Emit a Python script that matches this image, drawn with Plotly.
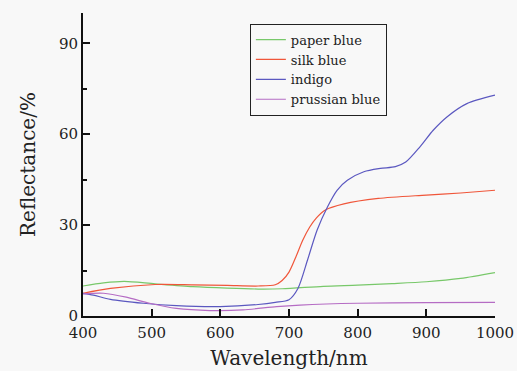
import plotly.graph_objects as go

wl_paper = [400, 430, 460, 505, 560, 610, 655, 690, 750, 800, 850, 900, 950, 1000]
paper_blue = [9.9, 10.9, 11.4, 10.6, 9.7, 9.2, 8.9, 9.0, 9.8, 10.2, 10.7, 11.3, 12.4, 14.3]

wl_silk = [400, 440, 505, 560, 610, 655, 680, 690, 700, 710, 720, 730, 740, 753, 780, 830, 900, 950, 1000]
silk_blue = [7.5, 9.1, 10.4, 10.3, 10.1, 9.9, 10.3, 11.7, 14.5, 19.5, 25.0, 29.3, 32.4, 35.0, 37.0, 38.8, 39.9, 40.6, 41.5]

wl_indigo = [400, 415, 440, 488, 536, 600, 655, 680, 700, 713, 727, 741, 756, 770, 785, 809, 833, 855, 870, 891, 910, 930, 959, 1000]
indigo = [7.5, 6.9, 5.5, 4.2, 3.4, 3.1, 3.8, 4.5, 5.4, 9.1, 18.5, 28.4, 36.0, 41.5, 44.8, 47.6, 48.7, 49.3, 50.8, 55.9, 61.3, 65.7, 70.1, 72.9]

wl_prussian = [400, 430, 463, 497, 536, 585, 633, 682, 716, 800, 900, 1000]
prussian_blue = [7.3, 7.5, 6.2, 4.2, 2.5, 1.8, 2.0, 3.1, 3.6, 4.2, 4.4, 4.5]

series = [
    ("paper blue", wl_paper, paper_blue, "#78c86a"),
    ("silk blue", wl_silk, silk_blue, "#f0563a"),
    ("indigo", wl_indigo, indigo, "#5b58c0"),
    ("prussian blue", wl_prussian, prussian_blue, "#b56cc4"),
]

fig = go.Figure()
for name, x, y, c in series:
    fig.add_trace(go.Scatter(x=x, y=y, name=name, mode="lines",
                             line=dict(color=c, width=1.2, shape="spline", smoothing=0.8)))

font = "DejaVu Serif"
fig.update_layout(
    width=517, height=371,
    margin=dict(l=83, r=22, t=13, b=55),
    paper_bgcolor="#f8f8f8", plot_bgcolor="#f8f8f8",
    font=dict(family=font, color="#222"),
    showlegend=True,
    legend=dict(x=0.405, y=0.965, xanchor="left", yanchor="top",
                bgcolor="rgba(0,0,0,0)", bordercolor="#222", borderwidth=1,
                font=dict(size=13, family=font), itemwidth=30,
                tracegroupgap=0),
)
fig.update_xaxes(range=[400, 1000], tickvals=[400, 500, 600, 700, 800, 900, 1000],
                 automargin=False,
                 showgrid=False, zeroline=False, showline=True, linecolor="#111", linewidth=2,
                 ticks="inside", ticklen=7, tickwidth=1.5, tickcolor="#111",
                 tickfont=dict(size=15, family=font), ticklabelstandoff=2,
                 title=dict(text="Wavelength/nm", font=dict(size=20, family=font), standoff=10))
fig.update_yaxes(range=[0, 100], tickvals=[0, 30, 60, 90],
                 automargin=False,
                 showgrid=False, zeroline=False, showline=True, linecolor="#111", linewidth=2,
                 ticks="inside", ticklen=7, tickwidth=1.5, tickcolor="#111",
                 minor=dict(tickvals=[15, 45, 75], ticks="inside", ticklen=4, tickcolor="#111"),
                 tickfont=dict(size=15, family=font),
                 title=dict(text="Reflectance/%", font=dict(size=20, family=font), standoff=18))

fig.write_html("out.html")
